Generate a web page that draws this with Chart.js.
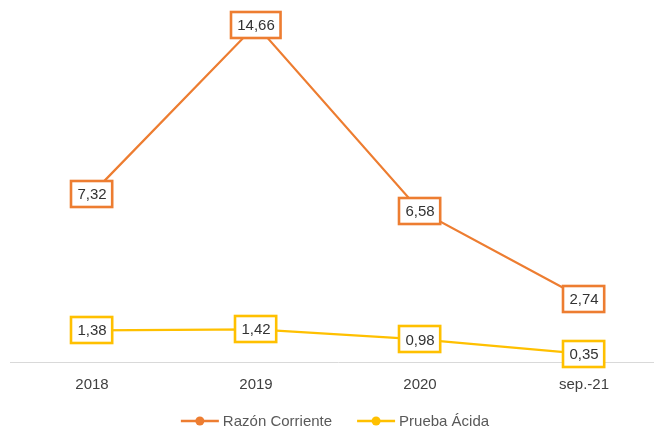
<!DOCTYPE html>
<html><head><meta charset="utf-8">
<script src="https://cdn.jsdelivr.net/npm/chart.js@4/dist/chart.umd.min.js"></script>
<style>
html,body{margin:0;padding:0;background:#fff;overflow:hidden;width:654px;height:429px;}
#wrap{width:670px;height:429px;position:relative;}
</style></head>
<body><div id="wrap"><canvas id="c"></canvas></div>
<script>
const categories = ["2018", "2019", "2020", "sep.-21"];
const razonCorriente = [7.32, 14.66, 6.58, 2.74];
const pruebaAcida = [1.38, 1.42, 0.98, 0.35];
const seriesNames = ["Razón Corriente", "Prueba Ácida"];
const colors = ["#ED7D31", "#FFC000"];

const FONT = '"Liberation Sans", Arial, sans-serif';

const labelPlugin = {
  id: 'boxLabels',
  afterDatasetsDraw(chart) {
    const ctx = chart.ctx;
    ctx.save();
    ctx.font = '15px ' + FONT;
    ctx.textAlign = 'center';
    ctx.textBaseline = 'middle';
    chart.data.datasets.forEach((ds, i) => {
      const meta = chart.getDatasetMeta(i);
      meta.data.forEach((pt, j) => {
        const txt = ds.data[j].toFixed(2).replace('.', ',');
        const w = ctx.measureText(txt).width + 12;
        const h = 26;
        const x = Math.round(pt.x - w / 2), y = Math.round(pt.y - h / 2);
        ctx.fillStyle = '#fff';
        ctx.fillRect(x, y, w, h);
        ctx.lineWidth = 2.6;
        ctx.strokeStyle = ds.borderColor;
        ctx.strokeRect(x, y, w, h);
        ctx.fillStyle = '#333333';
        ctx.fillText(txt, pt.x, pt.y + 1);
      });
    });
    ctx.restore();
  }
};

const legendPlugin = {
  id: 'customLegend',
  afterDraw(chart) {
    const ctx = chart.ctx;
    ctx.save();
    ctx.font = '15px ' + FONT;
    ctx.textBaseline = 'middle';
    const lineW = 38, gapT = 4, gapItems = 25;
    const items = chart.data.datasets.map(ds => ({ds, tw: ctx.measureText(ds.label).width}));
    let total = 0;
    items.forEach((it, k) => { total += lineW + gapT + it.tw + (k < items.length - 1 ? gapItems : 0); });
    let x = chart.width / 2 - total / 2;
    const y = 421;
    items.forEach(it => {
      ctx.strokeStyle = it.ds.borderColor;
      ctx.lineWidth = 2.5;
      ctx.beginPath(); ctx.moveTo(x, y); ctx.lineTo(x + lineW, y); ctx.stroke();
      ctx.fillStyle = it.ds.borderColor;
      ctx.beginPath(); ctx.arc(x + lineW / 2, y, 4.5, 0, Math.PI * 2); ctx.fill();
      ctx.fillStyle = '#595959';
      ctx.textAlign = 'left';
      ctx.fillText(it.ds.label, x + lineW + gapT, y + 1);
      x += lineW + gapT + it.tw + gapItems;
    });
    ctx.restore();
  }
};

new Chart(document.getElementById('c'), {
  type: 'line',
  data: {
    labels: categories,
    datasets: [
      { label: seriesNames[0], data: razonCorriente, borderColor: colors[0], backgroundColor: colors[0], borderWidth: 2.25, pointRadius: 0, tension: 0 },
      { label: seriesNames[1], data: pruebaAcida, borderColor: colors[1], backgroundColor: colors[1], borderWidth: 2.25, pointRadius: 0, tension: 0 }
    ]
  },
  options: {
    responsive: true,
    maintainAspectRatio: false,
    animation: false,
    layout: { padding: { left: 10, right: 4, top: 17, bottom: 0 } },
    plugins: { legend: { display: false }, tooltip: { enabled: false } },
    scales: {
      x: {
        offset: true,
        grid: { display: false, drawTicks: false },
        border: { display: true, color: '#d9d9d9', width: 1 },
        ticks: { padding: 14, color: '#404040', font: { family: FONT, size: 15 } },
        afterFit(scale) { scale.height = 67; }
      },
      y: {
        display: false,
        min: 0, max: 15
      }
    }
  },
  plugins: [labelPlugin, legendPlugin]
});
</script>
</body></html>
